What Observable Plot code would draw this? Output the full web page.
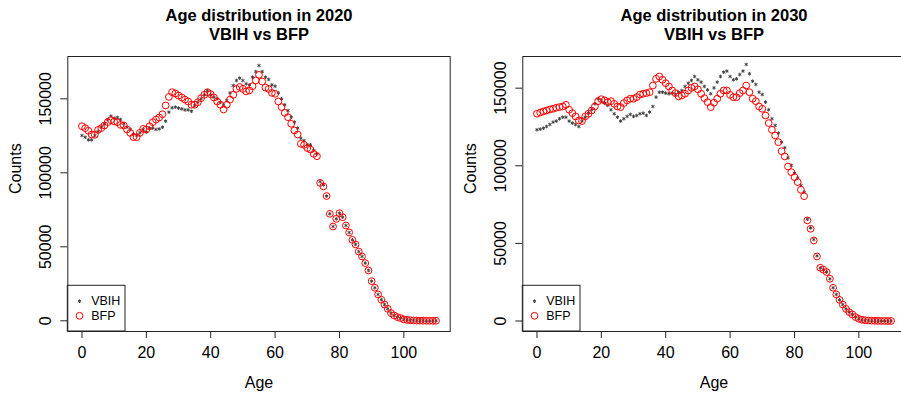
<!DOCTYPE html>
<html><head><meta charset="utf-8">
<script src="https://cdn.jsdelivr.net/npm/d3@7"></script>
<script src="https://cdn.jsdelivr.net/npm/@observablehq/plot@0.6"></script>
<style>
body{margin:0;background:#fff;}
#wrap{width:901px;height:393px;overflow:hidden;display:flex;}
#wrap > div{flex:0 0 455px;width:455px;height:393px;}
</style></head><body><div id="wrap"><div id="p1"></div><div id="p2"></div></div>
<script>
const ages = [0,1,2,3,4,5,6,7,8,9,10,11,12,13,14,15,16,17,18,19,20,21,22,23,24,25,26,27,28,29,30,31,32,33,34,35,36,37,38,39,40,41,42,43,44,45,46,47,48,49,50,51,52,53,54,55,56,57,58,59,60,61,62,63,64,65,66,67,68,69,70,71,72,73,74,75,76,77,78,79,80,81,82,83,84,85,86,87,88,89,90,91,92,93,94,95,96,97,98,99,100,101,102,103,104,105,106,107,108,109,110];

const vbih2020 = [125200,124100,122300,122300,125200,127900,130800,133100,136000,138300,
136900,137400,136000,133100,130800,129300,126300,125200,127000,129300,
127500,130200,130200,129300,129700,130800,134900,141000,143900,144400,
143700,143200,142500,142500,141600,145500,147700,150000,152700,155400,
152700,151100,150000,147700,146000,148900,154000,159000,162400,164000,
162400,160100,159400,164600,168400,172500,168400,164600,163100,159400,
158500,154000,150000,145900,142100,137600,134200,130200,123400,121800,
118900,118900,115100,112800,94100,91900,84300,72300,63700,68900,
72700,70000,64400,59700,54700,51600,46800,43500,39000,34000,
26800,22300,17800,14200,11000,8100,5200,3600,2500,1800,
900,600,400,250,150,100,60,40,20,10,5];

const bfp2020 = [131500,130200,128400,125900,125700,129000,130200,132000,134200,135600,
134700,134200,132400,132000,129300,127000,124100,124100,127000,129700,
129300,131500,134200,136000,137400,139600,145500,151300,154500,153600,
152200,150900,149500,148200,146000,146000,147700,150400,152700,154500,
153100,150900,148200,146000,142800,146000,149500,152700,156700,158000,
156700,155000,155700,158500,162400,166200,161700,157600,156700,154000,
153400,148200,144400,140500,137600,133100,128600,125900,119600,118900,
116700,115700,112800,111200,93200,90800,84300,72300,63700,68900,
72700,70000,64400,59700,54700,51600,46800,43500,39000,34000,
26800,22300,17800,14200,11000,8100,5200,3600,2500,1800,
900,600,400,250,150,100,60,40,20,10,5];

const vbih2030 = [123200,123600,124200,125300,126600,128100,128800,130300,131300,131300,
128800,127500,126600,125300,128800,131300,133900,136100,139900,143200,
142100,140400,138900,136100,133500,131300,128800,130300,131800,133100,
131800,132400,133500,133900,132400,134600,138200,144200,147400,147400,
146800,146400,146800,145900,147400,148500,151100,153200,155000,157500,
155400,153900,151100,148900,146400,150200,153900,157500,160300,161000,
157500,155400,156000,158800,161000,165300,159300,154500,152400,147400,
145900,141000,136100,130300,126000,121000,115200,111600,105100,100200,
95300,92200,87300,83000,65500,60000,52500,42000,34300,33000,
31500,27200,21400,17100,13600,10600,7800,5700,4200,2500,
1400,800,450,300,200,120,80,50,30,20,10];

const bfp2030 = [133500,134300,135000,135600,136300,136700,137400,137800,138200,139300,
136100,133900,131800,129200,128800,131800,133500,135600,138200,141600,
142900,142100,141000,141600,139900,138200,137800,140400,142100,143200,
143200,144200,145900,146400,146800,147400,151700,156000,157500,155400,
153200,151100,148500,146800,144700,145300,146400,148500,150200,151100,
149200,146400,143600,141000,137800,140600,143200,146400,148500,148500,
145700,144200,144200,146800,148500,151700,147400,143200,141600,138200,
136700,132400,127500,123200,119500,115200,109400,106000,99500,95900,
92700,89500,84500,80400,64800,59400,51900,41600,34300,33000,
31500,27200,21400,17100,13600,10600,7800,5700,4200,2500,
1400,800,450,300,200,120,80,50,30,20,10];

const xTicks = [0, 20, 40, 60, 80, 100];
const yTicks = [0, 50000, 100000, 150000];
const seriesNames = ["VBIH", "BFP"];
const titles = ["Age distribution in 2020\nVBIH vs BFP", "Age distribution in 2030\nVBIH vs BFP"];

const FONT = '"Liberation Sans", Arial, Helvetica, sans-serif';

function panel(title, vb, bf, yDomain) {
  const rows = ages.map((a, i) => ({age: a, vbih: vb[i], bfp: bf[i]}));
  const svg = Plot.plot({
    width: 455, height: 393,
    marginLeft: 67.3, marginRight: 5.3, marginTop: 56, marginBottom: 62,
    style: {fontFamily: FONT, fontSize: "16px", background: "#fff", color: "#000"},
    x: {domain: [-4.4, 114.4]},
    y: {domain: yDomain},
    marks: [
      Plot.axisX({ticks: xTicks, tickSize: 7, tickPadding: 8.5, fontSize: 16, label: null, stroke: "#222", tickFormat: d => String(d)}),
      Plot.axisY({ticks: yTicks, tickSize: 7, tickPadding: 9.5, tickRotate: -90, fontSize: 16, label: null, stroke: "#222", tickFormat: d => String(d)}),
      Plot.frame({stroke: "#222"}),
      Plot.dot(rows, {x: "age", y: "vbih", symbol: "asterisk", r: 1.7, stroke: "#444", strokeWidth: 1}),
      Plot.dot(rows, {x: "age", y: "bfp", r: 3.4, stroke: "#ff0000", strokeWidth: 1, fill: "none"}),
      Plot.text([title], {frameAnchor: "top", dy: -16.5, lineAnchor: "bottom", lineHeight: 1.15, fontSize: 16.5, fontWeight: "bold"}),
      Plot.text(["Age"], {frameAnchor: "bottom", dy: 51, lineAnchor: "middle", fontSize: 16}),
      Plot.text(["Counts"], {frameAnchor: "left", dx: -52.3, rotate: -90, lineAnchor: "middle", fontSize: 16}),
      Plot.dot([seriesNames[0]], {frameAnchor: "bottom-left", dx: 11.7, dy: -30.3, symbol: "asterisk", r: 1.7, stroke: "#444", strokeWidth: 1}),
      Plot.dot([seriesNames[1]], {frameAnchor: "bottom-left", dx: 11.7, dy: -15.7, r: 3.4, stroke: "#ff0000", strokeWidth: 1, fill: "none"}),
      Plot.text([seriesNames[0]], {frameAnchor: "bottom-left", dx: 23.4, dy: -30.3, textAnchor: "start", lineAnchor: "middle", fontSize: 12.5}),
      Plot.text([seriesNames[1]], {frameAnchor: "bottom-left", dx: 23.4, dy: -15.7, textAnchor: "start", lineAnchor: "middle", fontSize: 12.5})
    ]
  });
  d3.select(svg).insert("rect", ":first-child")
    .attr("x", 67.3).attr("y", 285.3).attr("width", 57.7).attr("height", 45.7)
    .attr("fill", "#fff").attr("stroke", "none");
  d3.select(svg).append("rect")
    .attr("x", 67.3).attr("y", 285.3).attr("width", 57.7).attr("height", 45.7)
    .attr("fill", "none").attr("stroke", "#222");
  return svg;
}

document.getElementById("p1").append(panel(titles[0], vbih2020, bfp2020, [-7230, 178600]));
document.getElementById("p2").append(panel(titles[1], vbih2030, bfp2030, [-6770, 170400]));
</script>
</body></html>
